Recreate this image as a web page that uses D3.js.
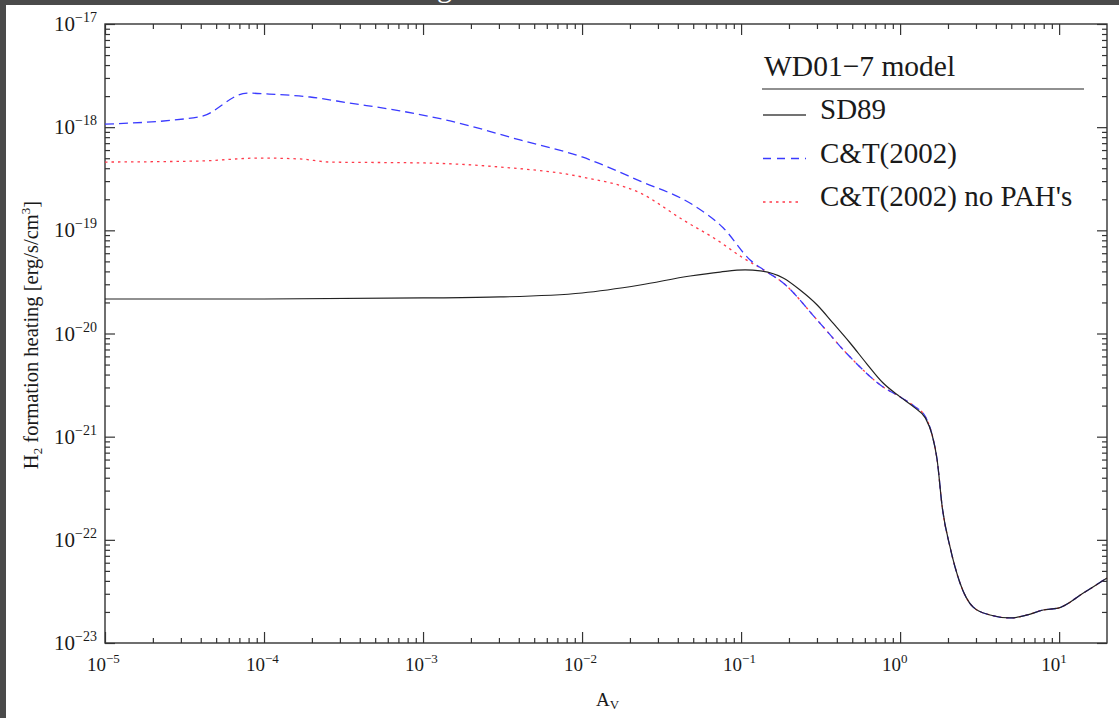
<!DOCTYPE html>
<html>
  <head>
    <meta charset="utf-8">
    <title>H2 formation heating</title>
    <script src="https://d3js.org/d3.v7.min.js"></script>
    <style>
      body { margin: 0; background: #fff; }
      text { font-family: "Liberation Serif", "DejaVu Serif", serif; fill: #1a1a1a; }
    </style>
  </head>
  <body>
    <svg width="1119" height="718"></svg>

    <script>
      // ====================================
      // data (Av, heating in erg/s/cm^3)
      // ====================================
      const sd89Av  = [1e-5, 1e-4, 1e-3, 0.00305, 0.01, 0.0232, 0.0478, 0.0738, 0.106, 0.132,
                       0.184, 0.235, 0.301, 0.379, 0.485, 0.619, 0.782, 1.0, 1.24, 1.44, 1.59, 1.71, 1.84,
                       2.06, 2.38, 2.88, 3.68, 4.92, 6.30, 7.93, 9.86, 14.2, 20];
      const sd89Val = [2.16e-20, 2.16e-20, 2.21e-20, 2.26e-20, 2.47e-20, 2.95e-20, 3.61e-20, 3.94e-20, 4.13e-20, 4.04e-20,
                       3.45e-20, 2.64e-20, 1.89e-20, 1.26e-20, 8.09e-21, 5.06e-21, 3.31e-21, 2.43e-21, 1.90e-21, 1.52e-21, 1.04e-21, 5.94e-22, 2.08e-22,
                       8.53e-23, 3.82e-23, 2.23e-23, 1.87e-23, 1.75e-23, 1.87e-23, 2.09e-23, 2.18e-23, 3.05e-23, 4.27e-23];

      const ctAv  = [1e-5, 3.95e-5, 7.82e-5, 1.04e-4, 1.95e-4, 3.47e-4, 7.16e-4, 1.48e-3, 4.07e-3, 0.01,
                     0.0232, 0.0499, 0.0771, 0.114, 0.142, 0.184, 0.301, 0.485, 0.782, 1.0, 1.24, 1.44, 1.59, 1.71, 1.84,
                     2.06, 2.38, 2.88, 3.68, 4.92, 6.30, 7.93, 9.86, 14.2, 20];
      const ctVal = [1.07e-18, 1.26e-18, 2.14e-18, 2.10e-18, 1.96e-18, 1.71e-18, 1.44e-18, 1.15e-18, 7.52e-19, 5.14e-19,
                     3.00e-19, 1.76e-19, 1.06e-19, 5.16e-20, 4.04e-20, 3.09e-20, 1.35e-20, 5.91e-21, 3.03e-21, 2.43e-21, 1.95e-21, 1.57e-21, 1.04e-21, 5.94e-22, 2.08e-22,
                     8.53e-23, 3.82e-23, 2.23e-23, 1.87e-23, 1.75e-23, 1.87e-23, 2.09e-23, 2.18e-23, 3.05e-23, 4.27e-23];

      const noPahAv  = [1e-5, 3.95e-5, 9.44e-5, 1.68e-4, 2.60e-4, 1e-3, 3.05e-3, 0.01, 0.0232, 0.0432,
                        0.0706, 0.103, 0.142, 0.184, 0.301, 0.485, 0.782, 1.0, 1.24, 1.44, 1.59, 1.71, 1.84,
                        2.06, 2.38, 2.88, 3.68, 4.92, 6.30, 7.93, 9.86, 14.2, 20];
      const noPahVal = [4.59e-19, 4.70e-19, 5.02e-19, 4.92e-19, 4.59e-19, 4.50e-19, 4.11e-19, 3.29e-19, 2.30e-19, 1.26e-19,
                        8.05e-20, 5.40e-20, 4.04e-20, 3.09e-20, 1.35e-20, 5.91e-21, 3.03e-21, 2.43e-21, 1.95e-21, 1.57e-21, 1.04e-21, 5.94e-22, 2.08e-22,
                        8.53e-23, 3.82e-23, 2.23e-23, 1.87e-23, 1.75e-23, 1.87e-23, 2.09e-23, 2.18e-23, 3.05e-23, 4.27e-23];

      const xMajor = [1e-5, 1e-4, 1e-3, 1e-2, 1e-1, 1e0, 1e1];
      const xLabels = ["\u22125", "\u22124", "\u22123", "\u22122", "\u22121", "0", "1"];
      const yMajor = [1e-23, 1e-22, 1e-21, 1e-20, 1e-19, 1e-18, 1e-17];
      const yLabels = ["\u221223", "\u221222", "\u221221", "\u221220", "\u221219", "\u221218", "\u221217"];
      const legendNames = ["SD89", "C&T(2002)", "C&T(2002) no PAH's"];

      const svg = d3.select("svg");

      // dark page frame around the figure
      svg.append("rect").attr("x", 0).attr("y", 0).attr("width", 1119).attr("height", 5).attr("fill", "#4a4a4a");
      svg.append("rect").attr("x", 0).attr("y", 0).attr("width", 6).attr("height", 718).attr("fill", "#4a4a4a");
      svg.append("text").attr("x", 437).attr("y", -3).attr("font-size", 30).style("fill", "#fff").text("g");

      const pLeft = 105, pRight = 1107, pTop = 24, pBottom = 643;

      const x = d3.scaleLog().domain([1e-5, 20]).range([pLeft, pRight]);
      const y = d3.scaleLog().domain([1e-23, 1e-17]).range([pBottom, pTop]);

      // minor ticks 2..9 in every decade
      const xMinor = [];
      for (let e = -5; e <= 1; e++) for (let k = 2; k <= 9; k++) if (k * 10 ** e < 20) xMinor.push(k * 10 ** e);
      const yMinor = [];
      for (let e = -23; e <= -18; e++) for (let k = 2; k <= 9; k++) yMinor.push(k * 10 ** e);

      function tickAxis(axis, transform) {
        const g = svg.append("g").attr("transform", transform).call(axis);
        g.select(".domain").remove();
        g.selectAll("line").attr("stroke", "#333").attr("stroke-width", 1.2);
        return g;
      }

      // inward ticks on all four sides
      tickAxis(d3.axisBottom(x).tickValues(xMajor).tickSize(-11).tickFormat(""), `translate(0,${pBottom})`);
      tickAxis(d3.axisBottom(x).tickValues(xMinor).tickSize(-5).tickFormat(""), `translate(0,${pBottom})`);
      tickAxis(d3.axisTop(x).tickValues(xMajor).tickSize(-11).tickFormat(""), `translate(0,${pTop})`);
      tickAxis(d3.axisTop(x).tickValues(xMinor).tickSize(-5).tickFormat(""), `translate(0,${pTop})`);
      tickAxis(d3.axisLeft(y).tickValues(yMajor).tickSize(-10).tickFormat(""), `translate(${pLeft},0)`);
      tickAxis(d3.axisLeft(y).tickValues(yMinor).tickSize(-5).tickFormat(""), `translate(${pLeft},0)`);
      tickAxis(d3.axisRight(y).tickValues(yMajor).tickSize(-10).tickFormat(""), `translate(${pRight},0)`);
      tickAxis(d3.axisRight(y).tickValues(yMinor).tickSize(-5).tickFormat(""), `translate(${pRight},0)`);

      svg.append("rect")
        .attr("x", pLeft).attr("y", pTop)
        .attr("width", pRight - pLeft).attr("height", pBottom - pTop)
        .attr("fill", "none").attr("stroke", "#333").attr("stroke-width", 1.4);

      // x tick labels: the "10" ends on the tick, exponent after it
      xMajor.forEach(function(v, i) {
        const t = svg.append("text")
          .attr("x", x(v) - 18).attr("y", 671)
          .attr("font-size", 19);
        t.append("tspan").text("10");
        t.append("tspan").attr("dy", -8).attr("font-size", 13).text(xLabels[i]);
      });

      // y tick labels
      yMajor.forEach(function(v, i) {
        const t = svg.append("text")
          .attr("x", 97).attr("y", y(v) + 7)
          .attr("text-anchor", "end")
          .attr("font-size", 21);
        t.append("tspan").text("10");
        t.append("tspan").attr("dy", -9).attr("font-size", 14).text(yLabels[i]);
      });

      // axis titles
      const xt = svg.append("text").attr("x", 596).attr("y", 706).attr("font-size", 19);
      xt.append("tspan").text("A");
      xt.append("tspan").attr("dy", 3).attr("font-size", 13).text("V");

      const yt = svg.append("text")
        .attr("transform", "translate(38,335) rotate(-90)")
        .attr("text-anchor", "middle")
        .attr("font-size", 20.5);
      yt.append("tspan").text("H");
      yt.append("tspan").attr("dy", 4).attr("font-size", 13).text("2");
      yt.append("tspan").attr("dy", -4).text(" formation heating [erg/s/cm");
      yt.append("tspan").attr("dy", -8).attr("font-size", 13).text("3");
      yt.append("tspan").attr("dy", 8).text("]");

      // curves
      const line = d3.line()
        .x(function(d) { return x(d[0]); })
        .y(function(d) { return y(d[1]); })
        .curve(d3.curveMonotoneX);

      const series = [
        { av: noPahAv, val: noPahVal, color: "#ff3a4a", dash: "2.5,4", width: 1.3 },
        { av: ctAv, val: ctVal, color: "#3a3aff", dash: "9,5", width: 1.3 },
        { av: sd89Av, val: sd89Val, color: "#222", dash: null, width: 1.2 }
      ];

      series.forEach(function(s) {
        svg.append("path")
          .datum(d3.zip(s.av, s.val))
          .attr("d", line)
          .attr("fill", "none")
          .attr("stroke", s.color)
          .attr("stroke-width", s.width)
          .attr("stroke-dasharray", s.dash);
      });

      // legend
      svg.append("text").attr("x", 764).attr("y", 76).attr("font-size", 29.5).text("WD01\u22127 model");
      svg.append("line").attr("x1", 762).attr("x2", 1084).attr("y1", 89).attr("y2", 89)
        .attr("stroke", "#222").attr("stroke-width", 1.2);

      const legStyles = [
        { color: "#444", dash: null, x2: 806 },
        { color: "#3a3aff", dash: "8,6", x2: 806 },
        { color: "#ff3a4a", dash: "2.5,4", x2: 800 }
      ];
      legendNames.forEach(function(name, i) {
        const yy = 115 + i * 43.5;
        svg.append("line")
          .attr("x1", 763).attr("x2", legStyles[i].x2)
          .attr("y1", yy).attr("y2", yy)
          .attr("stroke", legStyles[i].color).attr("stroke-width", 1.3)
          .attr("stroke-dasharray", legStyles[i].dash);
        svg.append("text").attr("x", 820).attr("y", yy + 4).attr("font-size", 29).text(name);
      });
    </script>
  </body>
</html>
